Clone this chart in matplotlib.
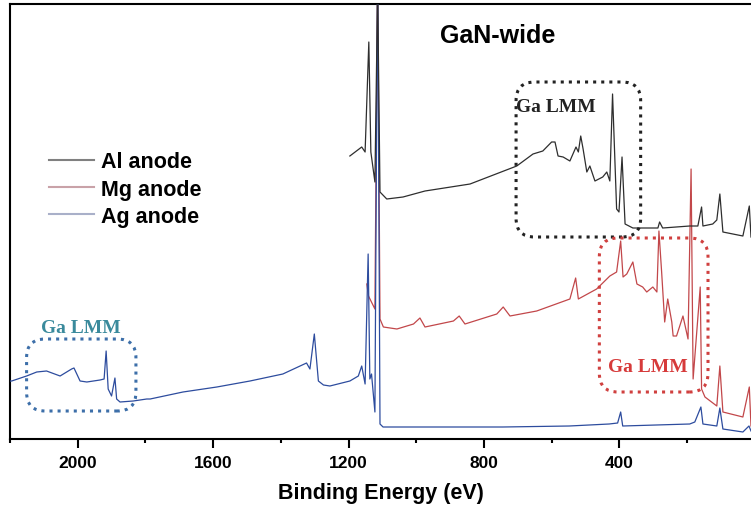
import numpy as np
import matplotlib
matplotlib.use("Agg")
import matplotlib.pyplot as plt
from matplotlib.lines import Line2D
from matplotlib.patches import FancyBboxPatch
from matplotlib.ticker import MultipleLocator

# binding energy (eV) and intensity (a.u.)
al_energy = [1196, 1161, 1151, 1140, 1134, 1122, 1114, 1107, 1087, 1039, 974, 841,
             703, 655, 626, 600, 590, 581, 566, 546, 528, 521, 514, 507, 496, 487,
             472, 449, 437, 428, 420, 408, 401, 392, 383, 360, 286, 281, 272, 192,
             168, 157, 153, 124, 112, 103, 94, 35, 16, 11]
al_counts = [283, 292, 287, 397, 287, 257, 450, 247, 240, 242, 248, 255,
             273, 285, 288, 297, 297, 283, 282, 278, 292, 287, 303, 290, 267, 273,
             258, 262, 267, 258, 345, 230, 227, 282, 215, 211, 211, 217, 211, 213,
             213, 232, 213, 215, 219, 245, 207, 203, 233, 202]

mg_energy = [1146, 1141, 1122, 1114, 1107, 1097, 1057, 1008, 989, 974, 890, 873,
             856, 762, 743, 723, 644, 546, 529, 521, 467, 428, 408, 396, 389,
             378, 360, 348, 331, 319, 301, 289, 283, 275, 266, 257, 245, 241, 231,
             212, 197, 188, 182, 161, 157, 147, 112, 103, 94, 35, 16, 11]
mg_counts = [155, 143, 130, 470, 120, 112, 110, 115, 121, 112, 118, 123,
             115, 125, 132, 123, 128, 140, 161, 140, 150, 163, 167, 198, 162,
             165, 177, 155, 152, 147, 152, 147, 208, 167, 117, 140, 117, 103, 103,
             123, 100, 270, 60, 152, 50, 42, 33, 73, 27, 22, 52, 13]

ag_energy = [2200, 2195, 2151, 2121, 2092, 2052, 2018, 2011, 1993, 1973, 1934, 1922,
             1916, 1910, 1900, 1890, 1885, 1875, 1836, 1796, 1786, 1689, 1589, 1491,
             1394, 1324, 1314, 1301, 1289, 1274, 1255, 1196, 1171, 1161, 1151, 1142,
             1137, 1132, 1122, 1114, 1107, 1098, 744, 548, 430, 405, 396, 390, 192,
             177, 159, 153, 112, 103, 94, 35, 17, 11]
ag_counts = [58, 58, 63, 67, 68, 63, 70, 71, 58, 57, 59, 60,
             88, 50, 43, 61, 40, 37, 38, 40, 40, 47, 52, 58,
             65, 76, 70, 105, 58, 54, 53, 58, 63, 73, 55, 185,
             60, 65, 27, 480, 15, 12, 12, 13, 15, 16, 27, 13, 15,
             17, 32, 15, 13, 31, 10, 7, 13, 8]

labels = ['Al anode', 'Mg anode', 'Ag anode']
legend_colors = ['#808080', '#c9a2a8', '#a9b0c9']

fig = plt.figure(figsize=(7.51, 5.10), dpi=100)
ax = fig.add_axes([10 / 751, 70 / 510, 741 / 751, 435 / 510])

ax.plot(mg_energy, mg_counts, color='#c2474a', lw=0.9, zorder=2)
ax.plot(ag_energy, ag_counts, color='#2d4c9e', lw=0.9, zorder=3)
ax.plot(al_energy, al_counts, color='#2e2e2e', lw=0.9, zorder=4)

ax.set_xlim(2200, 11)
ax.set_ylim(0, 435)
ax.set_yticks([])
ax.xaxis.set_minor_locator(MultipleLocator(200))
ax.set_xticks([2000, 1600, 1200, 800, 400])
ax.tick_params(axis='x', which='major', direction='out', length=6.5, width=1.5, pad=5)
ax.tick_params(axis='x', which='minor', direction='out', length=3, width=1.5)
for lab in ax.get_xticklabels():
    lab.set_fontfamily('Liberation Sans')
    lab.set_fontweight('bold')
    lab.set_fontsize(12.5)
# the "0" label is cut by the right edge of the picture
ax.text(0, -0.0365, '0', transform=ax.get_xaxis_transform(), ha='center', va='top',
        fontsize=12.5, fontweight='bold', family='Liberation Sans', clip_on=False)

for side in ['left', 'top', 'bottom']:
    ax.spines[side].set_linewidth(1.5)
ax.spines['right'].set_visible(False)

ax.set_xlabel('Binding Energy (eV)', fontsize=15.5, fontweight='bold',
              family='Liberation Sans', labelpad=9)
ax.text(0.6586, 0.929, 'GaN-wide', transform=ax.transAxes, ha='center', va='center',
        fontsize=18, fontweight='bold', family='Liberation Sans')

handles = [Line2D([], [], color=c, lw=1.5) for c in legend_colors]
leg = ax.legend(handles, labels, loc='center left', bbox_to_anchor=(0.0526, 0.5747),
                frameon=False, borderpad=0, borderaxespad=0, handlelength=2.1,
                handletextpad=0.3, labelspacing=0.3,
                prop={'family': 'Liberation Sans', 'weight': 'bold', 'size': 15.5})

# dotted rounded boxes around the Ga LMM regions
boxes = [((337, 202), 368, 155, '#222222'),
         ((138, 47), 321, 154, '#d0403f'),
         ((1828, 28), 323, 72, '#3d6fa9')]
for (x0, y0), w, h, col in boxes:
    ax.add_patch(FancyBboxPatch((x0, y0), w, h,
                                boxstyle='round,pad=0,rounding_size=55',
                                mutation_aspect=0.3385, fill=False, ec=col,
                                lw=2.2, ls=':', zorder=5))

ax.text(704, 332, 'Ga LMM', ha='left', va='center', fontsize=14, fontweight='bold',
        family='Liberation Serif', color='#222222')
ax.text(434, 72, 'Ga LMM', ha='left', va='center', fontsize=14, fontweight='bold',
        family='Liberation Serif', color='#d63a3a')
ax.text(1992, 111, 'Ga LMM', ha='center', va='center', fontsize=14, fontweight='bold',
        family='Liberation Serif', color='#3a8a9c')

fig.savefig('out.png', dpi=100)
